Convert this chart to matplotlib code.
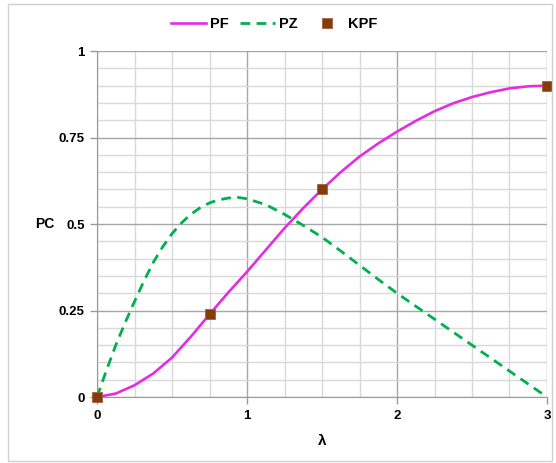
import matplotlib.pyplot as plt
from matplotlib.patches import Rectangle
from matplotlib.ticker import MultipleLocator

# values
pf_lam = [0, 0.125, 0.25, 0.375, 0.5, 0.625, 0.75, 0.875, 1.0, 1.125, 1.25, 1.375, 1.5,
          1.625, 1.75, 1.875, 2.0, 2.125, 2.25, 2.375, 2.5, 2.625, 2.75, 2.875, 3.0]
pf = [0, 0.01, 0.034, 0.068, 0.114, 0.174, 0.239, 0.302, 0.362, 0.425, 0.488, 0.546, 0.600,
      0.650, 0.695, 0.733, 0.767, 0.798, 0.826, 0.849, 0.867, 0.881, 0.892, 0.898, 0.900]

pz_lam = [0, 0.0625, 0.125, 0.1875, 0.25, 0.3125, 0.375, 0.4375, 0.5, 0.5625, 0.625, 0.6875,
          0.75, 0.8125, 0.875, 0.9375, 1.0, 1.125, 1.25, 1.375, 1.5, 1.625, 1.75, 1.875,
          2.0, 2.25, 2.5, 2.75, 3.0]
pz = [0, 0.077, 0.15, 0.215, 0.276, 0.335, 0.389, 0.434, 0.472, 0.503, 0.528, 0.547,
      0.561, 0.570, 0.575, 0.577, 0.573, 0.556, 0.528, 0.496, 0.462, 0.422, 0.381, 0.34,
      0.30, 0.225, 0.15, 0.075, 0]

kpf_x = [0, 0.75, 1.5, 3]
kpf_y = [0, 0.239, 0.6, 0.9]

plt.rcParams['font.family'] = ['Liberation Sans', 'DejaVu Sans']

fig = plt.figure(figsize=(5.56, 4.63), dpi=100)
fig.patches.append(Rectangle((0.014, 0.004), 0.978, 0.988, transform=fig.transFigure,
                             fill=False, edgecolor='#d0d0d0', linewidth=1))
ax = fig.add_axes([0.1745, 0.1425, 0.8093, 0.7473])

ax.plot(pf_lam, pf, color='#e32de3', lw=1.9, label='PF', zorder=3)
ax.plot(pz_lam, pz, color='#00b050', lw=2.0, dashes=(3.5, 2.3), label='PZ', zorder=3)
ax.plot(kpf_x, kpf_y, 's', color='#843c0c', ms=7.5, mec='#a0603a', mew=0.6,
        label='KPF', zorder=4, clip_on=False)

ax.set_xlim(0, 3)
ax.set_ylim(0, 1)
ax.xaxis.set_major_locator(MultipleLocator(1))
ax.xaxis.set_minor_locator(MultipleLocator(0.25))
ax.yaxis.set_minor_locator(MultipleLocator(0.05))
ax.set_yticks([0, 0.25, 0.5, 0.75, 1])
ax.set_yticklabels(['0', '0.25', '0.5', '0.75', '1'])
ax.grid(which='major', color='#a6a6a6', lw=1)
ax.grid(which='minor', color='#d9d9d9', lw=1)
ax.set_axisbelow(True)
ax.tick_params(which='major', length=5, width=1, color='#999999', pad=4, labelsize=9.5)
ax.tick_params(which='minor', length=0)
for lab in ax.get_xticklabels() + ax.get_yticklabels():
    lab.set_fontweight('bold')
for s in ['top', 'right']:
    ax.spines[s].set_visible(False)
for s in ['left', 'bottom']:
    ax.spines[s].set_color('#999999')

ax.set_xlabel('λ', fontsize=11, fontweight='bold', labelpad=9)
fig.text(0.081, 0.516, 'PC', fontsize=10, fontweight='bold', ha='center', va='center')

leg = fig.legend(loc='center', bbox_to_anchor=(0.493, 0.948), ncol=3, frameon=False,
                 handlelength=2.4, columnspacing=0.8, handletextpad=0.25,
                 prop={'weight': 'bold', 'size': 10.5})

fig.savefig('out.png', dpi=100)
